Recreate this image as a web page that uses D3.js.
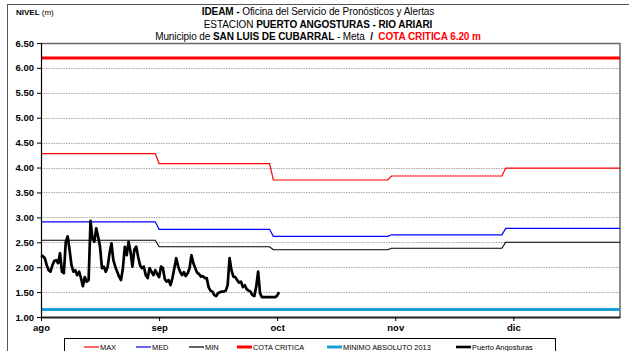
<!DOCTYPE html>
<html>
<head>
<meta charset="utf-8">
<script src="https://cdn.jsdelivr.net/npm/d3@7"></script>
<style>
  body { margin: 0; background: #fff; }
  svg { display: block; }
  text { font-family: "Liberation Sans", Arial, sans-serif; }
</style>
</head>
<body>
<svg id="chart" width="629" height="351"></svg>
<script>
// ---- Data ---------------------------------------------------------------
// Monthly reference levels (m), one value per calendar month
const months = ["2014-08-01", "2014-09-01", "2014-10-01", "2014-11-01", "2014-12-01"];
const maxLevels = [4.28, 4.08, 3.75, 3.83, 3.99];
const medLevels = [2.91, 2.76, 2.62, 2.65, 2.78];
const minLevels = [2.54, 2.41, 2.35, 2.38, 2.50];

const cotaCritica = 6.20;          // critical level
const minimoAbsoluto2013 = 1.15;   // absolute minimum recorded in 2013

// Station readings, twice a day starting at obsStart
const obsStart = "2014-08-01T00:00";
const obsStepHours = 12;
const nivelPuertoAngosturas = [
  2.24, 2.22, 2.18, 2.04, 1.94, 1.91, 2.04, 2.13, 2.14, 2.08,
  2.28, 1.91, 1.88, 2.50, 2.62, 2.35, 2.04, 1.91, 1.94, 1.84,
  1.91, 1.78, 1.62, 1.80, 1.71, 1.74, 2.93, 2.58, 2.51, 2.78,
  2.61, 2.41, 1.98, 2.01, 1.91, 2.01, 2.28, 2.48, 2.14, 2.01,
  1.91, 1.81, 1.74, 1.98, 2.41, 2.24, 2.51, 2.31, 2.01, 2.35,
  2.41, 2.21, 2.04, 1.98, 2.01, 1.84, 1.78, 1.98, 1.91, 1.84,
  1.94, 1.86, 1.80, 2.01, 1.98, 1.76, 1.71, 1.74, 1.64, 1.78,
  1.98, 2.18, 2.02, 1.91, 1.84, 1.90, 1.82, 1.88, 1.98, 2.24,
  2.08, 1.98, 1.89, 1.86, 1.81, 1.82, 1.78, 1.78, 1.60, 1.53,
  1.51, 1.44, 1.42, 1.48, 1.50, 1.51, 1.51, 1.53, 1.64, 2.18,
  1.94, 1.81, 1.80, 1.74, 1.69, 1.71, 1.60, 1.64, 1.56, 1.53,
  1.51, 1.44, 1.42, 1.61, 1.91, 1.48, 1.40, 1.40, 1.40, 1.40,
  1.40, 1.40, 1.40, 1.40, 1.43, 1.50
];

// Axis ticks
const yTicks = [1.0, 1.5, 2.0, 2.5, 3.0, 3.5, 4.0, 4.5, 5.0, 5.5, 6.0, 6.5];
const monthTickLabels = ["ago", "sep", "oct", "nov", "dic"];
const monthTickStepDays = 31;
const axisStart = "2014-08-01";
const axisEnd = "2014-12-31";

const legendLabels = ["MAX", "MED", "MIN", "COTA CRITICA", "MINIMO ABSOLUTO 2013", "Puerto Angosturas"];

// ---- Layout -------------------------------------------------------------
const svg = d3.select("#chart");
const plot = { left: 41, right: 620, top: 43, bottom: 317 };
const parseDay = d3.timeParse("%Y-%m-%d");
const parseStamp = d3.timeParse("%Y-%m-%dT%H:%M");

const x = d3.scaleTime()
  .domain([parseDay(axisStart), parseDay(axisEnd)])
  .range([plot.left, plot.right]);
const y = d3.scaleLinear()
  .domain([1.0, 6.5])
  .range([plot.bottom, plot.top]);

// Outer frame of the figure
svg.append("rect")
  .attr("x", 7.5).attr("y", 4.5)
  .attr("width", 640).attr("height", 360)
  .attr("fill", "none").attr("stroke", "#555").attr("stroke-width", 1);

// ---- Titles -------------------------------------------------------------
function richText(sel, parts) {
  parts.forEach(p => {
    sel.append("tspan")
      .text(p.t)
      .attr("font-weight", p.b ? "bold" : "normal")
      .attr("fill", p.c || "#000");
  });
}
const titleX = 318;
richText(svg.append("text").attr("x", titleX).attr("y", 14.5)
  .attr("text-anchor", "middle").attr("font-size", 10).attr("letter-spacing", -0.08),
  [{ t: "IDEAM - ", b: true }, { t: "Oficina del Servicio de Pronósticos y Alertas" }]);
richText(svg.append("text").attr("x", titleX).attr("y", 27.5)
  .attr("text-anchor", "middle").attr("font-size", 10).attr("letter-spacing", -0.08),
  [{ t: "ESTACION " }, { t: "PUERTO ANGOSTURAS - RIO ARIARI", b: true }]);
richText(svg.append("text").attr("x", titleX).attr("y", 40)
  .attr("text-anchor", "middle").attr("font-size", 10).attr("letter-spacing", -0.08)
  .attr("xml:space", "preserve"),
  [{ t: "Municipio de " }, { t: "SAN LUIS DE CUBARRAL", b: true }, { t: " - Meta  " },
   { t: "/", b: true }, { t: "  " }, { t: "COTA CRITICA 6.20 m", b: true, c: "#ff0000" }]);

richText(svg.append("text").attr("x", 16).attr("y", 14.5)
  .attr("font-size", 8),
  [{ t: "NIVEL", b: true }, { t: " (m)" }]);

// ---- Plot frame & grid --------------------------------------------------
svg.append("g")
  .selectAll("line")
  .data(yTicks.filter(v => v > 1.0 && v < 6.5))
  .join("line")
  .attr("x1", plot.left).attr("x2", plot.right)
  .attr("y1", d => Math.round(y(d)) + 0.5).attr("y2", d => Math.round(y(d)) + 0.5)
  .attr("stroke", "#a8a8a8").attr("stroke-width", 1)
  .attr("stroke-dasharray", "1.5,1");

svg.append("path")
  .attr("d", `M${plot.left},${plot.top + 0.5}H${plot.right}V${plot.bottom}`)
  .attr("fill", "none").attr("stroke", "#666").attr("stroke-width", 1.5);

// ---- Series -------------------------------------------------------------
function monthlySteps(values) {
  const pts = [];
  months.forEach((m, i) => {
    const start = parseDay(m);
    const next = d3.timeMonth.offset(start, 1);
    const last = d3.timeDay.offset(next, -1);
    pts.push([start, values[i]], [last, values[i]]);
  });
  return pts;
}
const line = d3.line().x(d => x(d[0])).y(d => y(d[1]));

const refSeries = [
  { values: maxLevels, color: "#ff0000", width: 1.2 },
  { values: medLevels, color: "#0000ff", width: 1.2 },
  { values: minLevels, color: "#000000", width: 1.1 }
];
refSeries.forEach(s => {
  svg.append("path")
    .attr("d", line(monthlySteps(s.values)))
    .attr("fill", "none").attr("stroke", s.color).attr("stroke-width", s.width);
});

const domainX = x.domain();
svg.append("path")
  .attr("d", line([[domainX[0], cotaCritica], [domainX[1], cotaCritica]]))
  .attr("stroke", "#ff0000").attr("stroke-width", 3).attr("fill", "none");
svg.append("path")
  .attr("d", line([[domainX[0], minimoAbsoluto2013], [domainX[1], minimoAbsoluto2013]]))
  .attr("stroke", "#1c9fd3").attr("stroke-width", 3).attr("fill", "none");

const t0 = parseStamp(obsStart);
const obsPoints = nivelPuertoAngosturas.map((v, i) => [d3.timeHour.offset(t0, i * obsStepHours), v]);
svg.append("path")
  .attr("d", line(obsPoints))
  .attr("fill", "none").attr("stroke", "#000").attr("stroke-width", 2.7)
  .attr("stroke-linejoin", "round");

// ---- Axes ---------------------------------------------------------------
const yAxis = d3.axisLeft(y)
  .tickValues(yTicks)
  .tickFormat(d3.format(".2f"))
  .tickSize(4)
  .tickPadding(3);
const gy = svg.append("g").attr("transform", `translate(${plot.left},0)`).call(yAxis);
gy.select(".domain").attr("stroke", "#000").attr("stroke-width", 1.2);
gy.selectAll(".tick line").attr("stroke", "#000");
gy.selectAll(".tick text")
  .attr("font-size", 9.5).attr("font-weight", "bold")
  .attr("font-family", "'Liberation Sans', Arial, sans-serif").attr("fill", "#000");

const monthTicks = monthTickLabels.map((_, i) => d3.timeDay.offset(parseDay(axisStart), i * monthTickStepDays));
const xAxis = d3.axisBottom(x)
  .tickValues(monthTicks)
  .tickFormat((d, i) => monthTickLabels[i])
  .tickSize(4)
  .tickSizeOuter(0)
  .tickPadding(3);
const gx = svg.append("g").attr("transform", `translate(0,${plot.bottom})`).call(xAxis);
gx.select(".domain").attr("stroke", "#222").attr("stroke-width", 2);
gx.selectAll(".tick line").attr("stroke", "#000");
gx.selectAll(".tick text")
  .attr("font-size", 9.5).attr("font-weight", "bold")
  .attr("font-family", "'Liberation Sans', Arial, sans-serif").attr("fill", "#000");

// ---- Legend -------------------------------------------------------------
const legendBox = { x: 64.5, y: 338.5, w: 491, h: 20 };
svg.append("rect")
  .attr("x", legendBox.x).attr("y", legendBox.y)
  .attr("width", legendBox.w).attr("height", legendBox.h)
  .attr("fill", "#fff").attr("stroke", "#000").attr("stroke-width", 1);

const legendStyles = [
  { x: 84, color: "#ff0000", width: 1.2 },
  { x: 136, color: "#0000ff", width: 1.2 },
  { x: 189, color: "#000000", width: 1.2 },
  { x: 237, color: "#ff0000", width: 3 },
  { x: 327, color: "#1c9fd3", width: 3 },
  { x: 456, color: "#000000", width: 2.6 }
];
const legendY = 347;
const lg = svg.append("g");
legendLabels.forEach((label, i) => {
  const st = legendStyles[i];
  lg.append("line")
    .attr("x1", st.x).attr("x2", st.x + 15)
    .attr("y1", legendY).attr("y2", legendY)
    .attr("stroke", st.color).attr("stroke-width", st.width);
  lg.append("text")
    .attr("x", st.x + 16).attr("y", legendY + 2.6)
    .attr("font-size", 7.4).attr("fill", "#000")
    .text(label);
});
</script>
</body>
</html>
